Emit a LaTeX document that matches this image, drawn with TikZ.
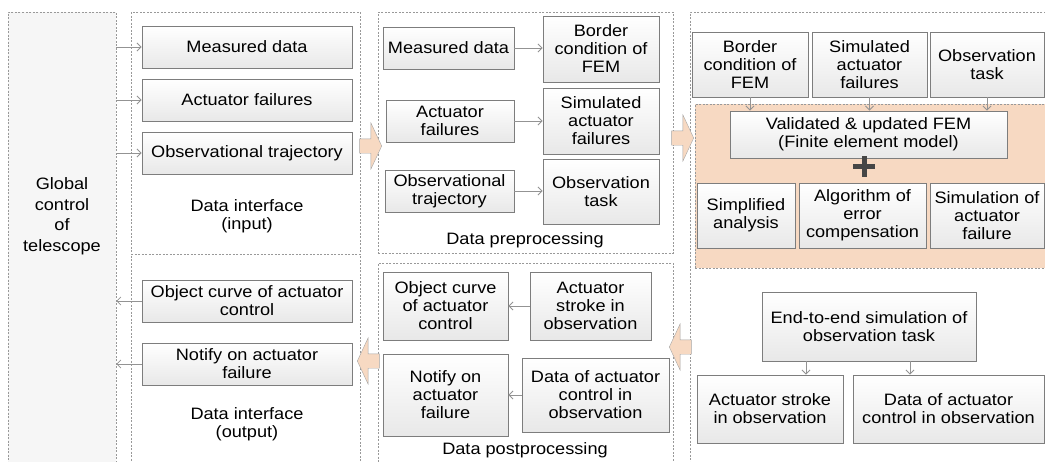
\documentclass[tikz,border=0pt]{standalone}
\usepackage{fontspec}
\setmainfont{Liberation Sans}[FakeStretch=1.1]
\usetikzlibrary{arrows.meta,shapes.arrows,shadows,calc}
\definecolor{peach}{RGB}{247,217,194}
\definecolor{boxline}{RGB}{125,125,125}

\begin{document}
\begin{tikzpicture}[x=1pt,y=-1pt,
	font=\fontsize{16.5}{18}\selectfont,
	panel/.style={draw=gray!80,dash pattern=on 2pt off 1.5pt,line width=0.7pt,inner sep=0pt},
	box/.style={draw=boxline,line width=0.9pt,top color=white,bottom color=gray!18,align=center,inner sep=2pt,
		drop shadow={shadow xshift=1pt,shadow yshift=-1pt,opacity=0.25}},
	lbl/.style={align=center,inner sep=0pt},
	arr/.style={draw=gray!85,line width=0.8pt,-{Straight Barb[length=4pt,width=8pt]}},
	blockarrow/.style={single arrow,draw=gray!70,fill=peach,inner sep=7pt,single arrow head extend=16pt,single arrow tip angle=130,minimum height=22pt}]
	\useasboundingbox (0,0) rectangle (1045,461);
	\clip (0,0) rectangle (1045,461);

	\node[panel,fill=gray!7,minimum width=108,minimum height=458] (gctl) at (62,241) {};
	\node[panel,minimum width=229,minimum height=242] (pin) at (245.5,133) {};
	\node[panel,minimum width=229,minimum height=216] (pout) at (245.5,362) {};
	\node[panel,minimum width=295,minimum height=241] (ppre) at (525.5,132.5) {};
	\node[panel,minimum width=295,minimum height=207] (ppost) at (525.5,366.5) {};
	\node[panel,minimum width=360,minimum height=458] (pright) at (870,241) {};
	\node[panel,fill=peach,minimum width=355,minimum height=164] (pfem) at (872.5,186) {};

	\node[lbl,font=\fontsize{16.5}{20.5}\selectfont] (tgctl) at (62,216) {Global\\control\\of\\telescope};

	\node[box,minimum width=210,minimum height=42] (in1) at (247,47) {Measured data};
	\node[box,minimum width=210,minimum height=42] (in2) at (247,100) {Actuator failures};
	\node[box,minimum width=210,minimum height=42] (in3) at (247,153) {Observational trajectory};
	\node[lbl] (tin) at (247,216) {Data interface\\(input)};

	\node[box,minimum width=210,minimum height=42] (out1) at (247,301) {Object curve of actuator\\control};
	\node[box,minimum width=210,minimum height=42] (out2) at (247,364) {Notify on actuator\\failure};
	\node[lbl] (tout) at (247,424) {Data interface\\(output)};

	\node[box,minimum width=131,minimum height=42] (pre1) at (448.5,48) {Measured data};
	\node[box,minimum width=128,minimum height=42] (pre2) at (450,121) {Actuator\\failures};
	\node[box,minimum width=129,minimum height=42] (pre3) at (449.5,191) {Observational\\trajectory};
	\node[box,minimum width=116,minimum height=66] (pre4) at (601,49) {Border\\condition of\\FEM};
	\node[box,minimum width=116,minimum height=66] (pre5) at (601,121) {Simulated\\actuator\\failures};
	\node[box,minimum width=116,minimum height=65] (pre6) at (601,191.5) {Observation\\task};
	\node[lbl] (tpre) at (525,240) {Data preprocessing};

	\node[box,minimum width=125,minimum height=68] (post1) at (445.5,306) {Object curve\\of actuator\\control};
	\node[box,minimum width=121,minimum height=68] (post2) at (590.5,306) {Actuator\\stroke in\\observation};
	\node[box,minimum width=125,minimum height=82] (post3) at (445.5,395) {Notify on\\actuator\\failure};
	\node[box,minimum width=147,minimum height=74] (post4) at (595.5,395) {Data of actuator\\control in\\observation};
	\node[lbl] (tpost) at (525,450) {Data postprocessing};

	\node[box,minimum width=116,minimum height=65] (fem1) at (750,64.5) {Border\\condition of\\FEM};
	\node[box,minimum width=115,minimum height=65] (fem2) at (869.5,64.5) {Simulated\\actuator\\failures};
	\node[box,minimum width=114,minimum height=65] (fem3) at (987,64.5) {Observation\\task};
	\node[box,minimum width=277,minimum height=47] (fem) at (868.5,134.5) {Validated \& updated FEM\\(Finite element model)};
	\node[box,minimum width=98,minimum height=65] (sa) at (746,215.5) {Simplified\\analysis};
	\node[box,minimum width=127,minimum height=65] (alg) at (862.5,215.5) {Algorithm of\\error\\compensation};
	\node[box,minimum width=114,minimum height=65] (sim) at (987,215.5) {Simulation of\\actuator\\failure};

	\node[box,minimum width=214,minimum height=69] (e2e) at (869,326.5) {End-to-end simulation of\\observation task};
	\node[box,minimum width=146,minimum height=68] (stroke) at (770,409) {Actuator stroke\\in observation};
	\node[box,minimum width=191,minimum height=68] (ctl) at (948.5,409) {Data of actuator\\control in observation};

	\node[blockarrow] (ba1) at (369,146) {};
	\node[blockarrow,shape border rotate=180] (ba2) at (370,361) {};
	\node[blockarrow] (ba3) at (681,138) {};
	\node[blockarrow,shape border rotate=180] (ba4) at (682,347) {};

	\draw[line width=5pt,gray!55!black] (853,166) -- (875,166) (864,156) -- (864,177);

	\draw[arr] (gctl.east |- in1) -- (in1);
	\draw[arr] (gctl.east |- in2) -- (in2);
	\draw[arr] (gctl.east |- in3) -- (in3);
	\draw[arr] (out1) -- (gctl.east |- out1);
	\draw[arr] (out2) -- (gctl.east |- out2);

	\draw[arr] (pre1) -- (pre1 -| pre4.west);
	\draw[arr] (pre2) -- (pre2 -| pre5.west);
	\draw[arr] (pre3) -- (pre3 -| pre6.west);
	\draw[arr] (post2) -- (post2 -| post1.east);
	\draw[arr] (post4) -- (post4 -| post3.east);

	\draw[arr] (fem1) -- (fem1 |- fem.north);
	\draw[arr] (fem2) -- (fem2 |- fem.north);
	\draw[arr] (fem3) -- (fem3 |- fem.north);
	\draw[arr] ([xshift=-63]e2e.south) -- ([xshift=-63]e2e.south |- stroke.north);
	\draw[arr] ([xshift=41]e2e.south) -- ([xshift=41]e2e.south |- ctl.north);
\end{tikzpicture}
\end{document}
